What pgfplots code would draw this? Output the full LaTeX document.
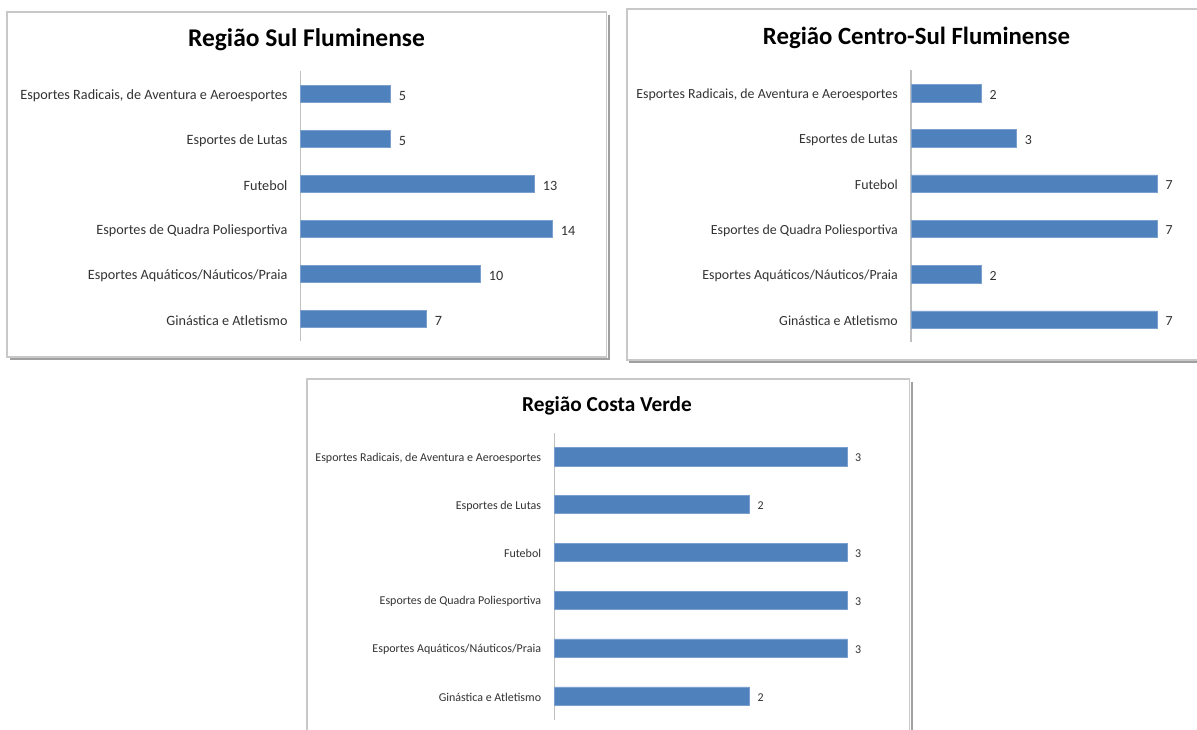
\documentclass[border=0pt]{standalone}
\usepackage{fontspec}
\setmainfont{Carlito}
\usepackage{pgfplots}
\pgfplotsset{compat=1.18}
\definecolor{barblue}{HTML}{4F81BD}
\definecolor{lbl}{HTML}{333333}
\definecolor{axgray}{HTML}{C0C0C0}
\definecolor{frm}{HTML}{C8C8C8}
\definecolor{shd}{HTML}{A0A0A0}
\pgfplotsset{
  regbar/.style={
    xbar, scale only axis, anchor=south west, enlargelimits=false, clip=false,
    xmin=0, ymin=-0.5, ymax=5.5,
    axis x line=none, axis y line*=left,
    axis line style={draw=axgray, line width=1.3pt},
    xtick=\empty, ytick={0,1,2,3,4,5},
    yticklabels={Ginástica e Atletismo, Esportes Aquáticos/Náuticos/Praia, Esportes de Quadra Poliesportiva, Futebol, Esportes de Lutas, {Esportes Radicais, de Aventura e Aeroesportes}},
    major tick length=0pt,
    yticklabel style={text=lbl, inner sep=0pt, anchor=east, xshift=-13pt, yshift=-1.5pt},
    nodes near coords, nodes near coords align=horizontal,
    every node near coord/.append style={text=lbl, inner sep=0pt, anchor=west, xshift=8pt, yshift=-1.5pt},
    /pgf/number format/assume math mode=true,
  },
  regplot/.style={fill=barblue, draw=barblue!75!white, line width=0.5pt},
}
\begin{document}
\begin{tikzpicture}
\useasboundingbox (0pt,0pt) rectangle (1197pt,729pt);
\clip (0pt,0pt) rectangle (1197pt,729pt);
% frames
\draw[shd, line width=2pt] (608.5pt,714pt) -- (608.5pt,370pt) -- (10pt,370pt);
\draw[frm, line width=1.6pt, fill=white] (7pt,372pt) rectangle (606.5pt,717pt);
\draw[shd, line width=2pt] (629pt,367pt) -- (1220pt,367pt);
\draw[frm, line width=1.6pt, fill=white] (627pt,369pt) rectangle (1220pt,720pt);
\draw[shd, line width=2pt] (911.5pt,347pt) -- (911.5pt,-20pt);
\draw[frm, line width=1.6pt, fill=white] (307pt,-20pt) rectangle (909.5pt,350pt);
% titles
\node[font=\bfseries\fontsize{25.5}{28}\selectfont, anchor=base, inner sep=0pt] at (306.5pt,682pt) {Região Sul Fluminense};
\node[font=\bfseries\fontsize{24.8}{28}\selectfont, anchor=base, inner sep=0pt] at (916.5pt,684pt) {Região Centro-Sul Fluminense};
\node[font=\bfseries\fontsize{21.3}{24}\selectfont, anchor=base, inner sep=0pt] at (607pt,317pt) {Região Costa Verde};
% panel 1
\begin{axis}[regbar, at={(300.7pt,387.5pt)}, width=288pt, height=270pt, xmax=16,
  yticklabel style={font=\fontsize{14.2}{16}\selectfont},
  every node near coord/.append style={font=\fontsize{14.2}{16}\selectfont}]
\addplot[regplot, bar width=17.5pt] coordinates {(7,0) (10,1) (14,2) (13,3) (5,4) (5,5)};
\end{axis}
% panel 2
\begin{axis}[regbar, at={(911pt,386.8pt)}, width=281.6pt, height=271.8pt, xmax=8,
  yticklabel style={font=\fontsize{13.9}{16}\selectfont},
  every node near coord/.append style={font=\fontsize{13.9}{16}\selectfont}]
\addplot[regplot, bar width=17.5pt] coordinates {(7,0) (2,1) (7,2) (7,3) (3,4) (2,5)};
\end{axis}
% panel 3
\begin{axis}[regbar, at={(554.3pt,9pt)}, width=341.25pt, height=287.4pt, xmax=3.5,
  yticklabel style={font=\fontsize{12}{14}\selectfont},
  every node near coord/.append style={font=\fontsize{12}{14}\selectfont}]
\addplot[regplot, bar width=18.4pt] coordinates {(2,0) (3,1) (3,2) (3,3) (2,4) (3,5)};
\end{axis}
\end{tikzpicture}
\end{document}
